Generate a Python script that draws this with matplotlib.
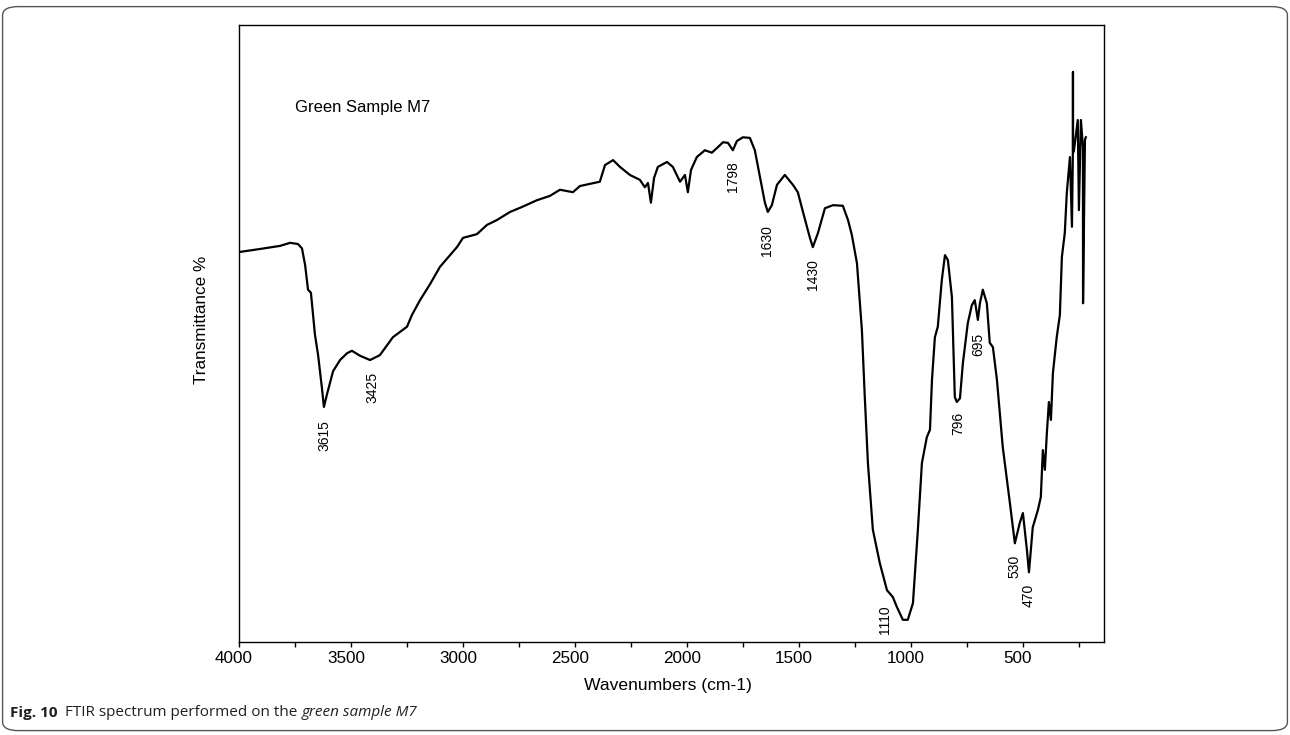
import matplotlib
matplotlib.use("Agg")
import matplotlib.pyplot as plt
from matplotlib.patches import FancyBboxPatch
from matplotlib.ticker import MultipleLocator
from matplotlib.transforms import ScaledTranslation

# spectrum (wavenumber in cm-1, transmittance in arbitrary %)
wavenumber = [4000, 3906, 3817, 3772, 3737, 3719, 3705, 3692, 3679, 3661,
              3647, 3630, 3621, 3607, 3580, 3549, 3518, 3496, 3460, 3415,
              3371, 3313, 3250, 3228, 3192, 3147, 3103, 3027, 3000, 2938,
              2893, 2848, 2790, 2737, 2670, 2612, 2567, 2509, 2478, 2389,
              2366, 2330, 2299, 2255, 2210, 2188, 2174, 2161, 2147, 2130,
              2089, 2063, 2031, 2009, 1996, 1982, 1956, 1920, 1889, 1862,
              1839, 1817, 1795, 1777, 1750, 1719, 1697, 1674, 1652, 1639,
              1621, 1598, 1563, 1527, 1505, 1482, 1451, 1438, 1415, 1384,
              1348, 1304, 1281, 1264, 1241, 1219, 1206, 1192, 1170, 1139,
              1107, 1081, 1063, 1036, 1014, 991, 969, 951, 929, 915,
              906, 893, 880, 862, 848, 835, 817, 804, 795, 781,
              768, 746, 728, 715, 701, 692, 679, 661, 648, 634,
              616, 590, 558, 536, 514, 500, 482, 473, 456, 433,
              420, 411, 402, 393, 384, 375, 366, 349, 335, 326,
              313, 304, 290, 281, 277, 276.5, 276, 272, 255, 250,
              241, 232, 231.5, 223, 219]
transmittance = [63.2, 63.7, 64.2, 64.7, 64.5, 63.8, 61.1, 57.1, 56.6, 49.8,
                 46.5, 41.2, 38.1, 40.2, 43.9, 45.7, 46.8, 47.2, 46.4, 45.7,
                 46.5, 49.4, 51.1, 53.0, 55.4, 58.0, 60.8, 64.0, 65.5, 66.1,
                 67.6, 68.4, 69.7, 70.5, 71.6, 72.3, 73.3, 72.9, 73.9, 74.6,
                 77.3, 78.1, 77.0, 75.7, 74.9, 73.7, 74.4, 71.2, 75.2, 77.0,
                 77.8, 77.0, 74.6, 75.7, 72.9, 76.5, 78.6, 79.7, 79.3, 80.2,
                 81.0, 80.9, 79.7, 81.2, 81.8, 81.7, 79.7, 75.4, 71.2, 69.7,
                 70.8, 74.1, 75.7, 74.1, 72.9, 69.7, 65.5, 64.0, 66.3, 70.3,
                 70.8, 70.7, 68.4, 66.0, 61.4, 50.6, 39.7, 29.0, 18.2, 12.8,
                 8.4, 7.3, 5.7, 3.6, 3.6, 6.3, 18.2, 29.0, 33.2, 34.4,
                 42.5, 49.4, 51.1, 58.7, 62.7, 61.9, 55.9, 39.7, 38.9, 39.5,
                 45.2, 51.7, 54.6, 55.4, 52.2, 54.9, 57.1, 54.9, 48.5, 47.8,
                 42.5, 31.6, 22.5, 16.0, 19.3, 20.9, 14.9, 11.3, 18.6, 21.4,
                 23.5, 31.1, 27.9, 33.9, 38.9, 36.0, 43.6, 49.4, 53.0, 62.4,
                 66.3, 72.8, 78.6, 67.3, 79.3, 92.4, 79.3, 79.7, 84.6, 70.0,
                 84.6, 80.2, 54.9, 81.4, 81.8]

# band labels and where they sit
peak_labels = ["3615", "3425", "1798", "1630", "1430", "1110", "796", "695", "530", "470"]
peak_label_x = [3620, 3406, 1795, 1643, 1438, 1116, 790, 701, 536, 473]
peak_label_y = [33.4, 41.3, 75.5, 65.0, 59.5, 3.7, 35.5, 48.3, 12.3, 7.5]

fig = plt.figure(figsize=(12.9, 7.35), dpi=100)
ax = fig.add_axes([0.1853, 0.1265, 0.6705, 0.8395])

ax.plot(wavenumber, transmittance, color="black", lw=1.6)
ax.set_xlim(4000, 138)
ax.set_ylim(0, 100)

ax.xaxis.set_major_locator(MultipleLocator(500))
ax.xaxis.set_minor_locator(MultipleLocator(250))
ax.tick_params(axis="x", which="both", direction="out", length=3.5, width=1,
               labelsize=12.3, pad=3)
ax.set_yticks([])
# tick labels sit a little left of their ticks in the original
shift = ScaledTranslation(-5 / 100, 0, fig.dpi_scale_trans)
for lbl in ax.get_xticklabels():
    lbl.set_family("Liberation Sans")
    lbl.set_transform(lbl.get_transform() + shift)
for sp in ax.spines.values():
    sp.set_linewidth(1.0)

ax.set_xlabel("Wavenumbers (cm-1)", family="Liberation Sans", fontsize=12.6, va="center")
ax.xaxis.set_label_coords(0.4954, -0.071)
ax.set_ylabel("Transmittance %", family="Liberation Sans", fontsize=12.3, va="center")
ax.yaxis.set_label_coords(-0.043, 0.522)

ax.text(0.0647, 0.8655, "Green Sample M7", transform=ax.transAxes,
        family="Liberation Sans", fontsize=12, va="center", ha="left")

for txt, px, py in zip(peak_labels, peak_label_x, peak_label_y):
    ax.text(px, py, txt, rotation=90, ha="center", va="center",
            family="Liberation Sans", fontsize=10)

# frame round the whole figure
frame = FancyBboxPatch((0.002, 0.006), 0.996, 0.985, transform=fig.transFigure,
                       boxstyle="round,pad=0,rounding_size=0.012",
                       fill=False, ec="#555555", lw=1.0)
fig.patches.append(frame)

# caption: bold figure number, then plain and italic parts
renderer = fig.canvas.get_renderer()
cap_y = 0.030
x0 = 0.0075
parts = [("Fig. 10", "bold", "normal"),
         ("  FTIR spectrum performed on the ", "normal", "normal"),
         ("green sample M7", "normal", "italic")]
for s, w, st in parts:
    t = fig.text(x0, cap_y, s, fontsize=11, family="Open Sans", weight=w,
                 style=st, color="#231f20", va="center", ha="left")
    bb = t.get_window_extent(renderer=renderer)
    x0 += bb.width / fig.bbox.width

fig.savefig("out.png", dpi=100)
